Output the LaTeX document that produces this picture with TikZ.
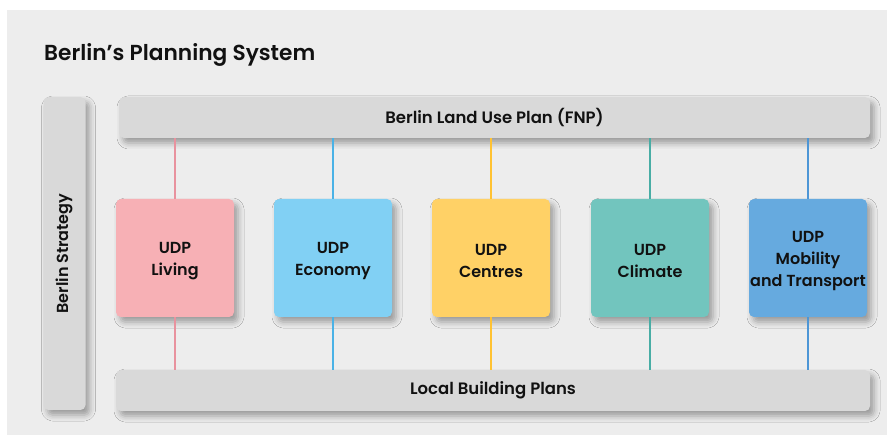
\documentclass[tikz,border=0pt]{standalone}
\usepackage{fontspec}
\setmainfont{Poppins}
\newfontfamily\semib{Poppins SemiBold}
\usetikzlibrary{shadows.blur}
\definecolor{bgc}{HTML}{EDEDED}
\definecolor{barc}{HTML}{D9D9D9}
\definecolor{cpink}{HTML}{F7B0B5}
\definecolor{cblue}{HTML}{81D0F4}
\definecolor{cyel}{HTML}{FFD166}
\definecolor{cteal}{HTML}{72C5BE}
\definecolor{cdblue}{HTML}{66AADF}
\definecolor{lpink}{HTML}{E8929E}
\definecolor{lblue}{HTML}{4AB2E6}
\definecolor{lyel}{HTML}{FFC232}
\definecolor{lteal}{HTML}{48ADA5}
\definecolor{ldblue}{HTML}{4D96D6}
\definecolor{txt}{HTML}{111111}
\tikzset{
  shad/.style={blur shadow={shadow xshift=4pt, shadow yshift=-5pt, shadow blur radius=6pt, shadow opacity=35}},
  barbox/.style={shad, fill=barc, rounded corners=5pt, inner sep=0pt, text=txt, font=\semib\fontsize{16.5}{20}\selectfont},
  udp/.style={shad, rounded corners=5pt, inner sep=0pt, minimum width=118pt, minimum height=118pt},
  udptext/.style={align=center, inner sep=0pt, text=txt, font=\semib\fontsize{16}{22}\selectfont},
  conn/.style={line width=2pt},
}
\begin{document}
\begin{tikzpicture}[x=1pt,y=-1pt]
\useasboundingbox (0,0) rectangle (887,435);
\fill[white] (0,0) rectangle (887,435);
\fill[bgc] (7,10) rectangle (887,435);
\node[anchor=west, text=txt, font=\semib\fontsize{21.7}{25}\selectfont, inner sep=0pt] (title) at (44,55) {Berlin’s Planning System};
\node[barbox, minimum width=42pt, minimum height=313pt] (strat) at (64.5,253.5) {};
\node[rotate=90, text=txt, font=\semib\fontsize{16}{19}\selectfont] (stratlbl) at (strat.center) {Berlin Strategy};
\node[barbox, minimum width=751pt, minimum height=41pt] (fnp) at (494.5,117.5) {Berlin Land Use Plan (FNP)};
\node[barbox, minimum width=754pt, minimum height=41pt] (local) at (493,390.5) {Local Building Plans};
\node[udp, fill=cpink] (liv) at (175,258) {};
\node[udp, fill=cblue] (eco) at (333,258) {};
\node[udp, fill=cyel] (cen) at (491,258) {};
\node[udp, fill=cteal] (cli) at (650,258) {};
\node[udp, fill=cdblue] (mob) at (808,258) {};
\node[udptext] (livt) at ([yshift=-3pt]liv.center) {UDP\\Living};
\node[udptext] (ecot) at ([yshift=-3pt]eco.center) {UDP\\Economy};
\node[udptext] (cent) at ([yshift=-3pt]cen.center) {UDP\\Centres};
\node[udptext] (clit) at ([yshift=-3pt]cli.center) {UDP\\Climate};
\node[udptext] (mobt) at ([yshift=-3pt]mob.center) {UDP\\Mobility\\and Transport};
\foreach \n/\c in {liv/lpink, eco/lblue, cen/lyel, cli/lteal, mob/ldblue}{
  \draw[conn, draw=\c] (\n.north) -- (\n.north |- fnp.south);
  \draw[conn, draw=\c] (\n.south) -- (\n.south |- local.north);
}
\end{tikzpicture}
\end{document}
